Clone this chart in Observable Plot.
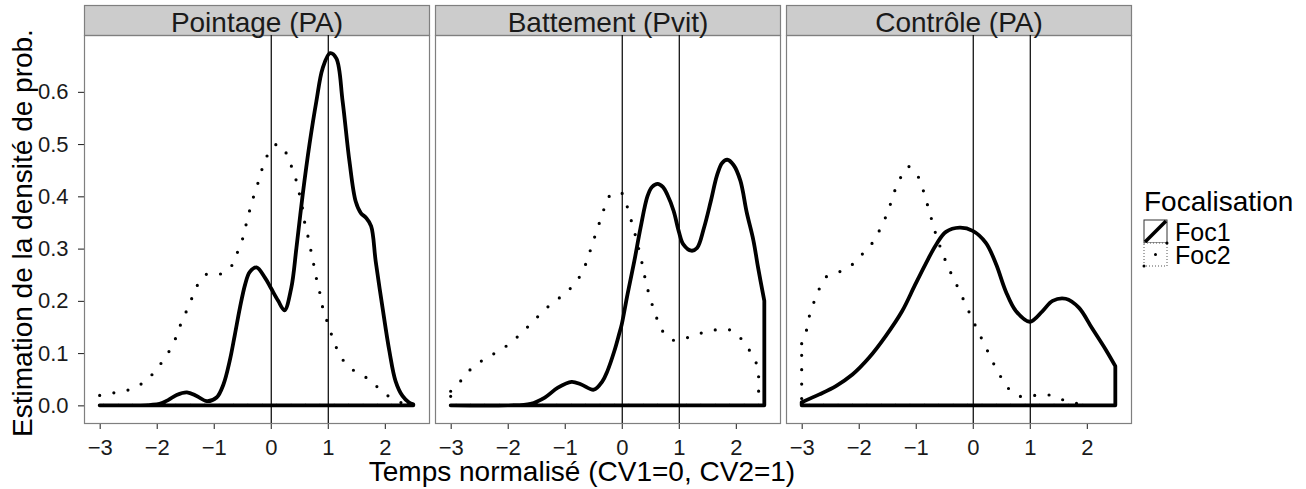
<!DOCTYPE html>
<html><head><meta charset="utf-8">
<script src="https://cdn.jsdelivr.net/npm/d3@7"></script>
<script src="https://cdn.jsdelivr.net/npm/@observablehq/plot@0.6"></script>
<style>body{margin:0;background:#fff;font-family:"Liberation Sans",Arial,sans-serif}</style>
</head><body><div id="chart"></div><script>
const panels = ["Pointage (PA)", "Battement (Pvit)", "Contrôle (PA)"];
const groups = ["Foc1", "Foc2"];
const xTicks = [-3, -2, -1, 0, 1, 2];
const yTicks = [0, 0.1, 0.2, 0.3, 0.4, 0.5, 0.6];
const refLines = [0, 1];
const legendTitle = "Focalisation";
const xTitle = "Temps normalisé (CV1=0, CV2=1)";
const yTitle = "Estimation de la densité de prob.";

const pointageFoc1X = [-3, -2.4, -2.1, -1.95, -1.8, -1.65, -1.47, -1.3, -1.12, -0.95, -0.83, -0.72, -0.63, -0.54, -0.45, -0.37, -0.25, -0.1, 0, 0.13, 0.24, 0.36, 0.45, 0.56, 0.68, 0.8, 0.91, 1.04, 1.15, 1.26, 1.38, 1.49, 1.58, 1.67, 1.76, 1.84, 1.96, 2.08, 2.19, 2.31, 2.42, 2.5];
const pointageFoc1Y = [0, 0, 0.001, 0.003, 0.01, 0.02, 0.025, 0.018, 0.008, 0.015, 0.04, 0.085, 0.135, 0.187, 0.231, 0.255, 0.264, 0.244, 0.225, 0.2, 0.182, 0.225, 0.301, 0.403, 0.5, 0.582, 0.645, 0.674, 0.664, 0.582, 0.467, 0.39, 0.368, 0.359, 0.343, 0.276, 0.187, 0.104, 0.046, 0.018, 0.006, 0.002];
const pointageFoc2X = [-3, -2.75, -2.51, -2.27, -2.08, -1.92, -1.78, -1.67, -1.58, -1.48, -1.38, -1.28, -1.11, -0.86, -0.68, -0.58, -0.49, -0.43, -0.37, -0.3, -0.22, -0.15, -0.05, 0.12, 0.28, 0.37, 0.45, 0.51, 0.56, 0.6, 0.66, 0.71, 0.76, 0.81, 0.87, 0.92, 1.0, 1.08, 1.17, 1.3, 1.49, 1.72, 1.9, 2.1, 2.34, 2.45];
const pointageFoc2Y = [0.019, 0.024, 0.029, 0.041, 0.059, 0.081, 0.104, 0.128, 0.155, 0.18, 0.206, 0.231, 0.252, 0.252, 0.268, 0.294, 0.32, 0.347, 0.373, 0.4, 0.427, 0.453, 0.48, 0.5, 0.481, 0.455, 0.429, 0.401, 0.375, 0.347, 0.32, 0.293, 0.266, 0.238, 0.211, 0.183, 0.157, 0.131, 0.106, 0.082, 0.064, 0.05, 0.032, 0.015, 0.003, 0];
const battementFoc1X = [-3, -2, -1.6, -1.35, -1.12, -0.88, -0.71, -0.49, -0.34, -0.25, -0.13, -0.047, 0, 0.1, 0.22, 0.33, 0.45, 0.53, 0.63, 0.72, 0.8, 0.91, 1.0, 1.08, 1.22, 1.32, 1.44, 1.56, 1.67, 1.76, 1.85, 1.96, 2.08, 2.19, 2.31, 2.39, 2.5];
const battementFoc1Y = [0, 0, 0.003, 0.015, 0.034, 0.045, 0.04, 0.03, 0.046, 0.066, 0.104, 0.136, 0.155, 0.212, 0.276, 0.34, 0.4, 0.418, 0.424, 0.418, 0.403, 0.372, 0.333, 0.308, 0.296, 0.301, 0.339, 0.39, 0.44, 0.464, 0.47, 0.46, 0.43, 0.37, 0.315, 0.264, 0.2];
const battementFoc2X = [-3, -2.83, -2.66, -2.46, -2.24, -2.03, -1.83, -1.65, -1.47, -1.29, -1.09, -0.9, -0.74, -0.63, -0.55, -0.47, -0.39, -0.31, -0.21, -0.01, 0.09, 0.16, 0.23, 0.29, 0.35, 0.4, 0.46, 0.53, 0.61, 0.71, 0.89, 1.13, 1.38, 1.62, 1.88, 2.08, 2.23, 2.35, 2.4];
const battementFoc2Y = [0.027, 0.046, 0.068, 0.085, 0.099, 0.113, 0.131, 0.15, 0.17, 0.189, 0.206, 0.224, 0.246, 0.271, 0.297, 0.324, 0.35, 0.376, 0.401, 0.407, 0.382, 0.356, 0.329, 0.303, 0.275, 0.248, 0.22, 0.194, 0.168, 0.143, 0.125, 0.129, 0.138, 0.144, 0.145, 0.129, 0.107, 0.083, 0.07];
const controleFoc1X = [-3, -2.69, -2.4, -2.11, -1.82, -1.53, -1.24, -1.01, -0.83, -0.64, -0.47, -0.23, 0, 0.23, 0.41, 0.58, 0.76, 1.0, 1.22, 1.4, 1.63, 1.86, 2.09, 2.33, 2.5];
const controleFoc1Y = [0.006, 0.021, 0.037, 0.059, 0.091, 0.132, 0.18, 0.231, 0.27, 0.308, 0.332, 0.34, 0.334, 0.311, 0.27, 0.218, 0.18, 0.16, 0.18, 0.2, 0.204, 0.187, 0.148, 0.107, 0.075];
const controleFoc2X = [-3, -2.92, -2.87, -2.79, -2.7, -2.58, -2.35, -2.13, -1.95, -1.78, -1.65, -1.54, -1.45, -1.37, -1.27, -1.13, -0.96, -0.87, -0.8, -0.73, -0.66, -0.58, -0.49, -0.39, -0.28, -0.17, -0.07, 0.04, 0.15, 0.26, 0.37, 0.49, 0.63, 0.84, 1.09, 1.33, 1.57, 1.81, 2.0];
const controleFoc2Y = [0.118, 0.142, 0.169, 0.196, 0.221, 0.245, 0.255, 0.268, 0.288, 0.308, 0.332, 0.357, 0.383, 0.41, 0.435, 0.457, 0.438, 0.412, 0.386, 0.359, 0.332, 0.306, 0.28, 0.255, 0.23, 0.204, 0.18, 0.154, 0.129, 0.104, 0.079, 0.055, 0.032, 0.017, 0.019, 0.02, 0.011, 0.004, 0];

const curves = [
  {panel: panels[0], group: groups[0], xs: pointageFoc1X, ys: pointageFoc1Y},
  {panel: panels[0], group: groups[1], xs: pointageFoc2X, ys: pointageFoc2Y},
  {panel: panels[1], group: groups[0], xs: battementFoc1X, ys: battementFoc1Y},
  {panel: panels[1], group: groups[1], xs: battementFoc2X, ys: battementFoc2Y},
  {panel: panels[2], group: groups[0], xs: controleFoc1X, ys: controleFoc1Y},
  {panel: panels[2], group: groups[1], xs: controleFoc2X, ys: controleFoc2Y}
];
const rows = curves.flatMap(c => c.xs.map((x, i) => ({panel: c.panel, group: c.group, x, y: c.ys[i]})));

const W = 1306, H = 489, ML = 83, MR = 174, MT = 35, MB = 66;
const frameH = H - MT - MB;
const pIn = 18 / 1055;

const chart = Plot.plot({
  width: W, height: H,
  marginLeft: ML, marginRight: MR, marginTop: MT, marginBottom: MB,
  style: {fontFamily: '"Liberation Sans", Arial, sans-serif', fontSize: "22px", background: "white", color: "#1a1a1a"},
  fx: {domain: panels, paddingInner: pIn, paddingOuter: 0, axis: null, label: null},
  x: {domain: [-3.275, 2.775], ticks: xTicks, tickSize: 6, tickPadding: 10, label: null, tickFormat: d => d3.format("d")(d)},
  y: {domain: [-0.03375, 0.70875], ticks: yTicks, tickSize: 6, tickPadding: 10, label: null, tickFormat: d3.format(".1f")},
  marks: [
    Plot.frame({fill: "#cccccc", stroke: "#7f7f7f", strokeWidth: 1.2, insetTop: -30, insetBottom: frameH}),
    Plot.frame({stroke: "#7f7f7f", strokeWidth: 1.2}),
    Plot.ruleX(refLines, {stroke: "black", strokeWidth: 1.2}),
    Plot.areaY(rows.filter(d => d.group === "Foc2"), {x: "x", y1: 0, y2: "y", fx: "panel", fill: "none", stroke: "black", strokeWidth: 3.2, strokeDasharray: "0 14.4", strokeLinecap: "round", curve: "catmull-rom"}),
    Plot.areaY(rows.filter(d => d.group === "Foc1"), {x: "x", y1: 0, y2: "y", fx: "panel", fill: "none", stroke: "black", strokeWidth: 3.8, strokeLinejoin: "round", curve: "catmull-rom"}),
    Plot.text(panels, {fx: d => d, text: d => d, frameAnchor: "top", lineAnchor: "middle", dy: -12.5, fontSize: 28, fill: "#1a1a1a"})
  ]
});
document.getElementById("chart").appendChild(chart);

const svg = d3.select(chart);
svg.append("text").attr("x", 582).attr("y", 481).attr("text-anchor", "middle")
  .attr("font-size", 28).attr("fill", "black").text(xTitle);
svg.append("text").attr("transform", "translate(32,233) rotate(-90)").attr("text-anchor", "middle")
  .attr("font-size", 28).attr("fill", "black").text(yTitle);

const lg = svg.append("g").attr("text-anchor", "start");
lg.append("text").attr("x", 1144).attr("y", 211).attr("font-size", 28).attr("fill", "black").text(legendTitle);
const kx = 1144, ks = 23, ky = [220, 243];
// Foc1 key
lg.append("rect").attr("x", kx).attr("y", ky[0]).attr("width", ks).attr("height", ks)
  .attr("fill", "white").attr("stroke", "#333").attr("stroke-width", 1);
lg.append("line").attr("x1", kx + 1).attr("y1", ky[0] + ks - 1).attr("x2", kx + ks - 1).attr("y2", ky[0] + 1)
  .attr("stroke", "black").attr("stroke-width", 3.5);
// Foc2 key
lg.append("rect").attr("x", kx).attr("y", ky[1]).attr("width", ks).attr("height", ks)
  .attr("fill", "white").attr("stroke", "#555").attr("stroke-width", 1).attr("stroke-dasharray", "1 2");
lg.append("line").attr("x1", kx).attr("y1", ky[1] + ks).attr("x2", kx + ks).attr("y2", ky[1])
  .attr("stroke", "black").attr("stroke-width", 3).attr("stroke-linecap", "round").attr("stroke-dasharray", "0 16.26");
groups.forEach((g, i) => {
  lg.append("text").attr("x", kx + ks + 8).attr("y", ky[i] + 21).attr("font-size", 25).attr("fill", "black").text(g);
});
</script></body></html>
